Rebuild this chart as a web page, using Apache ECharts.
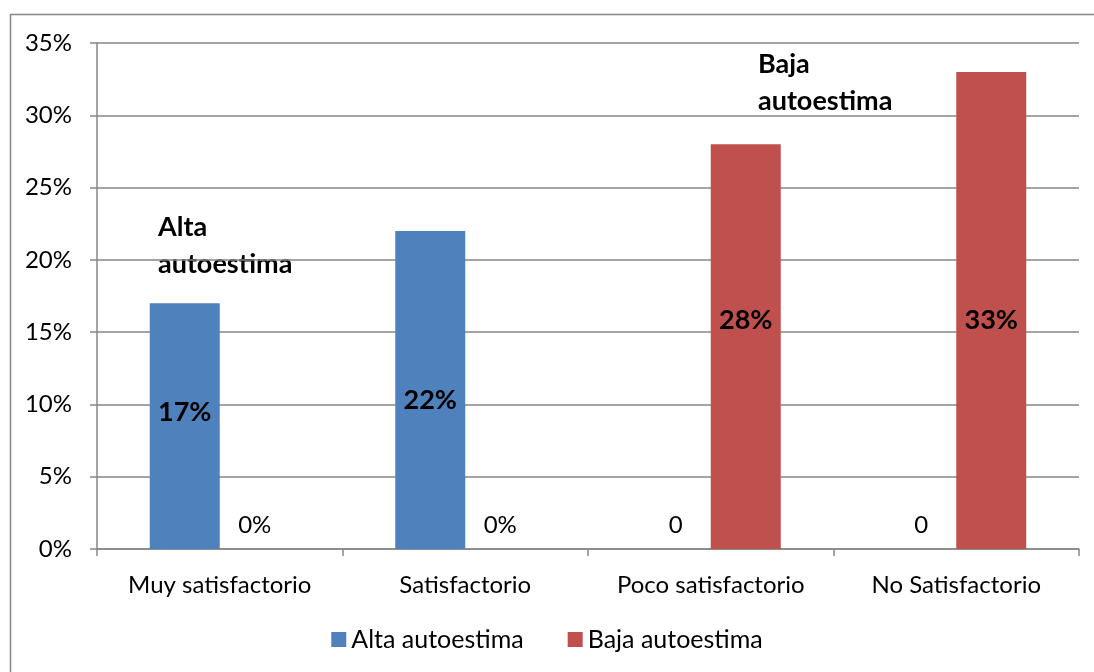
<!doctype html>
<html>
<head>
<meta charset="UTF-8">
<title>Autoestima</title>
<script src="https://cdn.jsdelivr.net/npm/echarts@6/dist/echarts.min.js"></script>
<style>
  html, body { margin: 0; padding: 0; background: #fff; }
  #main { width: 1094px; height: 672px; }
</style>
</head>
<body>
<div id="main"></div>
<script>
// datos
var categorias = ['Muy satisfactorio', 'Satisfactorio', 'Poco satisfactorio', 'No Satisfactorio'];
var altaValores = [17, 22, 0, 0];
var bajaValores = [0, 0, 28, 33];
var altaEtiquetas = ['17%', '22%', '0', '0'];
var bajaEtiquetas = ['0%', '0%', '28%', '33%'];
var ejeTicks = [0, 5, 10, 15, 20, 25, 30, 35];

var gris = '#868686';
var fuente = 'Lato, "Open Sans", sans-serif';

// etiqueta dentro de la barra o encima si vale 0
function armar(valores, etiquetas, offsets) {
  return valores.map(function (v, i) {
    var lbl = v > 0 ? {
      position: 'inside',
      fontWeight: 'bold',
      fontSize: 27,
      offset: [0, offsets[i]]
    } : {
      position: 'top',
      distance: 12,
      fontWeight: 'normal',
      fontSize: 24
    };
    lbl.formatter = etiquetas[i];
    return { value: v, label: lbl };
  });
}

var chart = echarts.init(document.getElementById('main'));
chart.setOption({
  animation: false,
  textStyle: { fontFamily: fuente, color: '#000' },
  grid: { left: 97, right: 15, top: 43, bottom: 123 },
  graphic: [
    { type: 'rect', shape: { x: 10.5, y: 14.5, width: 1100, height: 700 },
      style: { fill: null, stroke: gris, lineWidth: 1.5 }, z: -1 },
    { type: 'text', left: 158, top: 209,
      style: { text: 'Alta\nautoestima', font: 'bold 27px ' + fuente, lineHeight: 37, fill: '#000' } },
    { type: 'text', left: 758, top: 46,
      style: { text: 'Baja\nautoestima', font: 'bold 27px ' + fuente, lineHeight: 37, fill: '#000' } }
  ],
  legend: {
    bottom: 15,
    left: 'center',
    itemWidth: 15,
    itemHeight: 15,
    itemGap: 44,
    icon: 'rect',
    textStyle: { fontSize: 25, fontFamily: fuente, color: '#000', padding: [0, 0, 0, 0] },
    data: ['Alta autoestima', 'Baja autoestima']
  },
  xAxis: {
    type: 'category',
    data: categorias,
    axisLine: { lineStyle: { color: gris, width: 1.5 } },
    axisTick: { show: true, length: 7, lineStyle: { color: gris, width: 1.5 } },
    axisLabel: { fontSize: 24, color: '#000', margin: 24, fontFamily: fuente }
  },
  yAxis: {
    type: 'value',
    min: ejeTicks[0],
    max: ejeTicks[ejeTicks.length - 1],
    interval: 5,
    axisLine: { show: true, lineStyle: { color: gris, width: 1.5 } },
    axisTick: { show: true, length: 7, lineStyle: { color: gris, width: 1.5 } },
    splitLine: { lineStyle: { color: gris, width: 1.5 } },
    axisLabel: { fontSize: 24, color: '#000', margin: 25, formatter: '{value}%', fontFamily: fuente }
  },
  series: [
    {
      name: 'Alta autoestima',
      type: 'bar',
      barWidth: 70,
      barGap: '0%',
      itemStyle: { color: '#4f81bd' },
      label: { show: true, color: '#000', fontFamily: fuente },
      data: armar(altaValores, altaEtiquetas, [-14, 10, 0, 0])
    },
    {
      name: 'Baja autoestima',
      type: 'bar',
      barWidth: 70,
      itemStyle: { color: '#c0504d' },
      label: { show: true, color: '#000', fontFamily: fuente },
      data: armar(bajaValores, bajaEtiquetas, [0, 0, -26, 10])
    }
  ]
});
</script>
</body>
</html>
